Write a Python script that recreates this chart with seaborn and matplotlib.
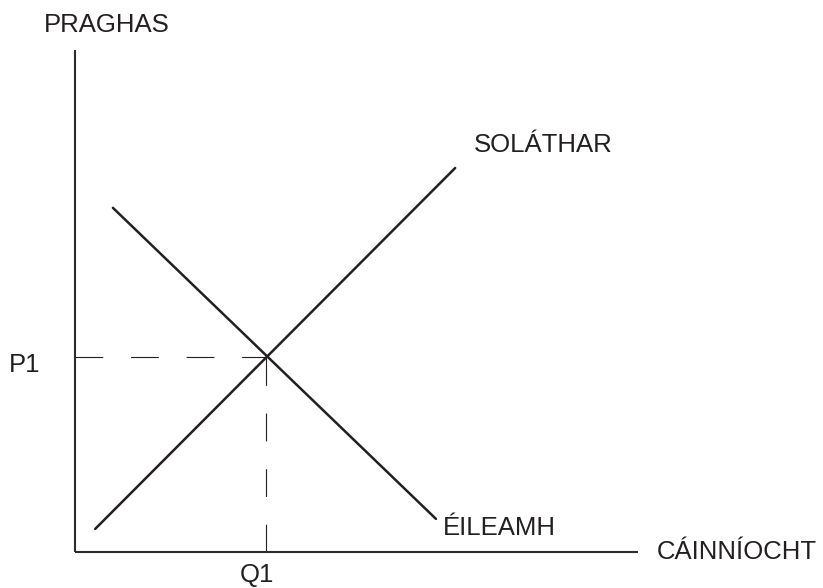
import matplotlib
matplotlib.use("Agg")
import matplotlib.pyplot as plt
import seaborn as sns
import pandas as pd

# ---- data (arbitrary units; origin at axes crossing) ----
supply_q = [0.42, 7.92]
supply_p = [0.48, 8.00]
demand_q = [0.79, 7.52]
demand_p = [7.17, 0.69]
q1 = 3.98
p1 = 4.06
x_axis_len = 11.73
y_axis_len = 10.46

label_price = "PRAGHAS"
label_qty = "CÁINNÍOCHT"
label_supply = "SOLÁTHAR"
label_demand = "ÉILEAMH"
label_p1 = "P1"
label_q1 = "Q1"

sns.set_theme(style="white")
plt.rcParams["font.family"] = ["Liberation Sans", "DejaVu Sans"]

W, H = 823, 588
fig = plt.figure(figsize=(W / 100, H / 100), dpi=100)
ax = fig.add_axes([0, 0, 1, 1])
unit = 48.0
ox, oy = 75, 552
ax.set_xlim(-ox / unit, (W - ox) / unit)
ax.set_ylim(-(H - oy) / unit, oy / unit)

ink = "#231f20"

df = pd.DataFrame({
    "q": supply_q + demand_q,
    "p": supply_p + demand_p,
    "curve": ["S", "S", "D", "D"],
})
sns.lineplot(data=df, x="q", y="p", units="curve", estimator=None,
             color=ink, linewidth=1.8, sort=False, ax=ax, legend=False)

# dashed guides
ax.plot([0, q1], [p1, p1], color=ink, linewidth=0.8, dashes=(25, 25))
ax.plot([q1, q1], [0, p1], color=ink, linewidth=0.8, dashes=(25, 25))

# axes as spines
for s in ["top", "right"]:
    ax.spines[s].set_visible(False)
ax.spines["left"].set_position(("data", 0))
ax.spines["bottom"].set_position(("data", 0))
ax.spines["left"].set_bounds(0, y_axis_len)
ax.spines["bottom"].set_bounds(0, x_axis_len)
for s in ["left", "bottom"]:
    ax.spines[s].set_color("#2b2b2b")
    ax.spines[s].set_linewidth(1.5)
    ax.spines[s].set_capstyle("butt")
ax.set_xticks([])
ax.set_yticks([])
ax.set_xlabel("")
ax.set_ylabel("")
ax.patch.set_alpha(0)

fs = 18.5
tc = "#231f20"
ax.text(0.67, 10.98, label_price, fontsize=fs, color=tc, ha="center", va="center")
ax.text(12.12, 0.0, label_qty, fontsize=fs, color=tc, ha="left", va="center")
ax.text(8.31, 8.48, label_supply, fontsize=fs, color=tc, ha="left", va="center")
ax.text(7.67, 0.5, label_demand, fontsize=fs, color=tc, ha="left", va="center")
ax.text(-0.73, p1 - 0.17, label_p1, fontsize=fs, color=tc, ha="right", va="center")
ax.text(q1 - 0.18, -0.48, label_q1, fontsize=fs, color=tc, ha="center", va="center")

fig.savefig("out.png", dpi=100)
